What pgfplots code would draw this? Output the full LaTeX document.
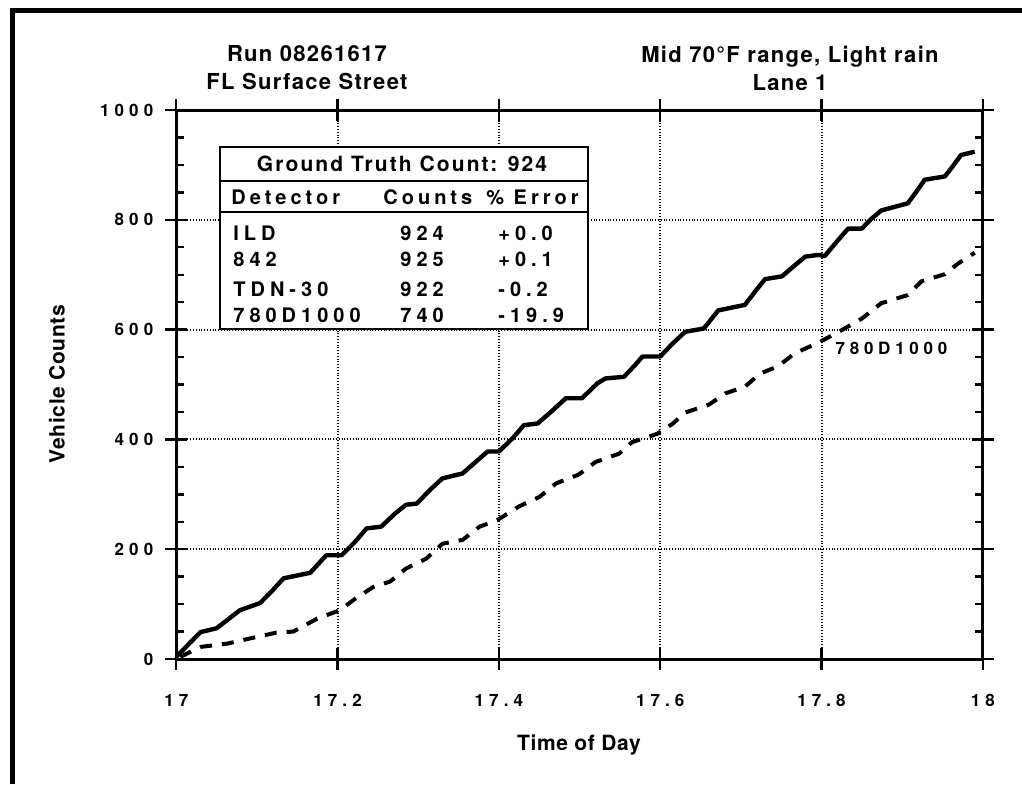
\documentclass[border=0pt]{standalone}
\usepackage{fontspec}
\setmainfont{TeX Gyre Heros}
\usepackage{pgfplots}
\pgfplotsset{compat=1.18}

\newcommand\tickf{\bfseries\fontsize{8.5}{10}\selectfont\addfontfeatures{LetterSpace=30}}
\newcommand\titlef{\bfseries\fontsize{11}{14}\selectfont\addfontfeatures{LetterSpace=6}}
\newcommand\labf{\bfseries\fontsize{10.5}{12}\selectfont\addfontfeatures{LetterSpace=3}}
\newcommand\gtf{\bfseries\fontsize{10.5}{12}\selectfont\addfontfeatures{LetterSpace=10}}
\newcommand\hdf{\bfseries\fontsize{10}{12}\selectfont\addfontfeatures{LetterSpace=20}}
\newcommand\rowf{\bfseries\fontsize{10}{12}\selectfont\addfontfeatures{LetterSpace=25}}
\newcommand\annf{\bfseries\fontsize{8.5}{10}\selectfont\addfontfeatures{LetterSpace=28}}

\pgfplotstableread{
x y
17.000 4
17.012 22
17.030 49
17.050 56
17.064 72
17.079 89
17.104 102
17.120 126
17.133 147
17.166 157
17.186 189
17.205 189
17.222 214
17.236 238
17.254 241
17.272 266
17.285 281
17.298 283
17.316 310
17.330 329
17.355 338
17.372 360
17.386 378
17.400 378
17.417 402
17.431 426
17.448 429
17.466 452
17.483 475
17.503 475
17.522 502
17.532 511
17.555 514
17.568 534
17.578 551
17.600 551
17.615 574
17.631 596
17.654 602
17.672 635
17.705 645
17.718 670
17.730 692
17.751 697
17.766 716
17.780 733
17.796 736
17.804 734
17.820 762
17.833 784
17.850 784
17.862 802
17.874 817
17.907 830
17.918 852
17.928 873
17.953 879
17.963 898
17.973 918
17.990 924
}\truth

\pgfplotstableread{
x y
17.005 4
17.030 22
17.063 28
17.096 39
17.124 48
17.145 50
17.174 73
17.203 89
17.223 111
17.244 131
17.265 141
17.285 165
17.310 183
17.330 210
17.355 217
17.376 241
17.398 253
17.425 278
17.450 295
17.471 320
17.499 336
17.520 359
17.549 374
17.565 395
17.596 410
17.615 428
17.631 449
17.660 463
17.681 484
17.705 496
17.724 520
17.746 533
17.767 557
17.796 576
17.825 599
17.850 620
17.874 648
17.907 663
17.924 688
17.953 701
17.969 720
17.990 740
}\dlr

\begin{document}
\begin{tikzpicture}
\begin{axis}[
  at={(0,0)}, anchor=south west,
  scale only axis, width=403.25pt, height=274.5pt,
  xmin=17, xmax=18, ymin=0, ymax=1000,
  xtick={17,17.2,17.4,17.6,17.8,18},
  xticklabels={17,17.2,17.4,17.6,17.8,18},
  ytick={0,200,400,600,800,1000},
  yticklabels={0,200,400,600,800,1000},
  minor y tick num=3,
  grid=major,
  major grid style={densely dotted, line width=1pt, black},
  axis line style={line width=1.5pt, black},
  every tick/.style={black, line width=1.2pt},
  tick align=inside,
  major tick length=5.5pt, minor tick length=4pt,
  tick label style={font=\tickf},
  xticklabel shift=14pt,
  yticklabel shift=8pt,
  clip mode=individual,
]
\addplot[black, line width=2.2pt, line join=round] table[x=x,y=y] {\truth};
\addplot[black, line width=2pt, dash pattern=on 6pt off 5pt] table[x=x,y=y] {\dlr};
\node[anchor=west, font=\annf, inner sep=0pt] at (axis cs:17.817,565) {780D1000};
% outward halves of the major ticks
\pgfplotsinvokeforeach{0,200,400,600,800,1000}{
  \draw[line width=1.2pt] (axis cs:17,#1) -- ++(-5.5pt,0pt);
  \draw[line width=1.2pt] (axis cs:18,#1) -- ++(5.5pt,0pt);
}
\pgfplotsinvokeforeach{17,17.2,17.4,17.6,17.8,18}{
  \draw[line width=1.2pt] (axis cs:#1,0) -- ++(0pt,-5.5pt);
  \draw[line width=1.2pt] (axis cs:#1,1000) -- ++(0pt,5.5pt);
}
\end{axis}
\begin{scope}[x=0.5pt, y=-0.5pt, shift={(-176.3,-659)}]
  % frame
  \draw[line width=2.5pt] (12.5,784) -- (12.5,10) -- (1022,10);
  % titles
  \node[align=center, font=\titlef] at (307,68) {Run 08261617\\FL Surface Street};
  \node[align=center, font=\titlef] at (790,68) {Mid 70°F range, Light rain\\Lane 1};
  % axis labels
  \node[rotate=90, font=\labf] at (57,384) {Vehicle Counts};
  \node[font=\labf] at (579,745) {Time of Day};
  % table
  \draw[line width=1.2pt, fill=white] (220,147) rectangle (588,329);
  \draw[line width=1.2pt] (220,181) -- (588,181) (220,212) -- (588,212);
  \node[anchor=base, font=\gtf, inner sep=0pt] at (402,171.5) {Ground Truth Count: 924};
  \node[anchor=base west, font=\hdf, inner sep=0pt] at (231,204) {Detector};
  \node[anchor=base west, font=\hdf, inner sep=0pt] at (383,204) {Counts};
  \node[anchor=base east, font=\hdf, inner sep=0pt] at (579,204) {\% Error};
  \node[anchor=base west, font=\rowf, inner sep=0pt] at (233,240.7) {ILD};
  \node[anchor=base west, font=\rowf, inner sep=0pt] at (233,266.7) {842};
  \node[anchor=base west, font=\rowf, inner sep=0pt] at (233,296.7) {TDN-30};
  \node[anchor=base west, font=\rowf, inner sep=0pt] at (233,322.7) {780D1000};
  \node[anchor=base west, font=\rowf, inner sep=0pt] at (400,240.7) {924};
  \node[anchor=base west, font=\rowf, inner sep=0pt] at (400,266.7) {925};
  \node[anchor=base west, font=\rowf, inner sep=0pt] at (400,296.7) {922};
  \node[anchor=base west, font=\rowf, inner sep=0pt] at (400,322.7) {740};
  \node[anchor=base west, font=\rowf, inner sep=0pt] at (498,240.7) {+0.0};
  \node[anchor=base west, font=\rowf, inner sep=0pt] at (498,266.7) {+0.1};
  \node[anchor=base west, font=\rowf, inner sep=0pt] at (498,296.7) {-0.2};
  \node[anchor=base west, font=\rowf, inner sep=0pt] at (498,322.7) {-19.9};
\end{scope}
\pgfresetboundingbox
\path[x=0.5pt, y=-0.5pt, shift={(-176.3,-659)}] (0,0) rectangle (1022,784);
\end{tikzpicture}
\end{document}
